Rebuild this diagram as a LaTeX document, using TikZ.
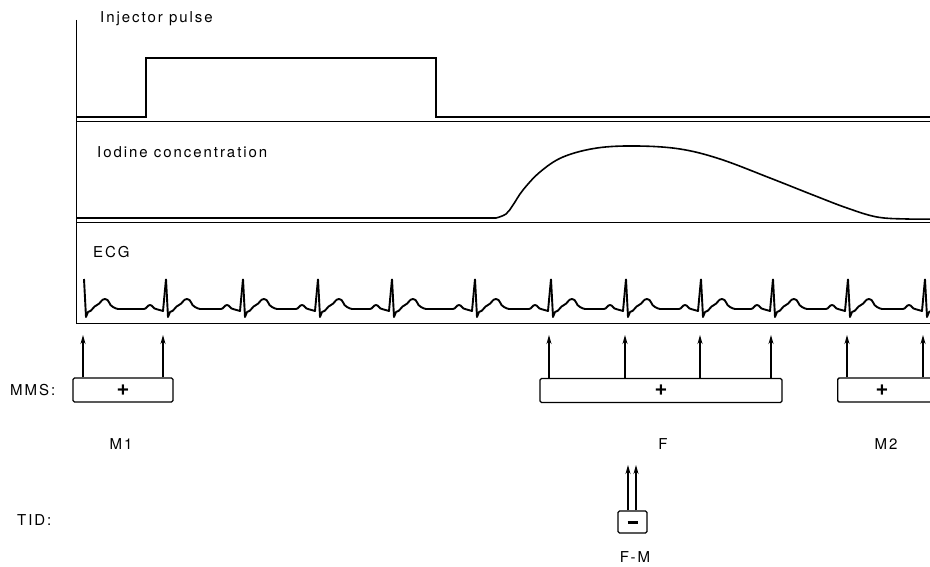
\documentclass[tikz,border=0pt]{standalone}
\usepackage{fontspec}
\setmainfont{TeX Gyre Heros}
\newfontfamily\lblfont{TeX Gyre Heros}[LetterSpace=13]
\usetikzlibrary{arrows.meta}

\begin{document}
\begin{tikzpicture}[
  x=1pt,y=-1pt,
  >={Stealth[length=9pt,width=5pt]},
  lab/.style={font=\lblfont\fontsize{15}{17}\selectfont,inner sep=0pt},
  sig/.style={line width=1.6pt},
  ecg/.style={line width=1.9pt,line join=round},
  rule/.style={line width=0.8pt},
  mms/.style={draw,line width=1.4pt,rounded corners=1.5pt,minimum height=24pt,
    inner sep=0pt,font=\bfseries\fontsize{22}{22}\selectfont},
  trig/.style={->,line width=1.3pt}]

  \useasboundingbox (0,0) rectangle (930,567);
  \clip (0,0) rectangle (930,567);

  % ---- axis and panel rules ----
  \draw[rule] (76,20) -- (76,323);
  \draw[rule] (76,121) -- (930,121);
  \draw[rule] (76,222) -- (930,222);
  \draw[rule] (76,323) -- (930,323);

  % ---- injector pulse ----
  \node[lab,anchor=base west] (inj) at (100,23) {Injector pulse};
  \draw[sig] (76,117) -- (146,117) -- (146,58) -- (436,58) -- (436,117) -- (930,117);

  % ---- iodine concentration ----
  \node[lab,anchor=base west] (iod) at (97,158) {Iodine concentration};
  \draw[sig] (76,218) -- (496,218)
    plot[smooth,tension=0.6] coordinates {(496,218) (506,214) (513,205) (523,190)
      (540,172) (563,157) (597,148) (637,146) (680,149) (720,159) (770,178)
      (813,195) (847,208) (877,217) (907,219) (935,219)};

  % ---- ECG ----
  \node[lab,anchor=base west] (ecg) at (93,258) {ECG};
  \foreach \a/\b in {84/166,166/243,243/318,318/392,392/475,475/551,
                     551/626,626/701,701/773,773/848,848/925,925/1000}
    \draw[ecg] (\a,279) -- (\a+2,317) -- (\a+4,312)
      to[out=10,in=200] (\a+13,305) to[out=20,in=180] (\a+21,299)
      to[out=0,in=160] (\a+29,307) to[out=-20,in=180] (\a+34,309)
      -- (\b-22,309) to[out=0,in=180] (\b-16,305) to[out=0,in=180] (\b-10,309)
      -- (\b-3,311) -- (\b,279);

  % ---- MMS ----
  \node[lab,anchor=base west] (mmslab) at (10,395) {MMS:};
  \node[mms,minimum width=100pt] (m1) at (123,390) {+};
  \node[mms,minimum width=242pt] (f) at (661,390.5) {+};
  \node[mms,minimum width=110pt,anchor=west] (m2) at (837,390) {};
  \node[font=\bfseries\fontsize{22}{22}\selectfont,inner sep=0pt] (m2sign) at (882,390) {+};

  \foreach \x in {83,163}{
    \coordinate (q) at (\x,335);
    \draw[trig] (m1.north -| q) -- (q);}
  \foreach \x in {549,625,700,771}{
    \coordinate (q) at (\x,335);
    \draw[trig] (f.north -| q) -- (q);}
  \foreach \x in {847,923}{
    \coordinate (q) at (\x,335);
    \draw[trig] (m2.north -| q) -- (q);}

  \node[lab,anchor=base] (m1lab) at (121,449) {M1};
  \node[lab,anchor=base] (flab) at (663,449) {F};
  \node[lab,anchor=base] (m2lab) at (886,449) {M2};

  % ---- TID ----
  \node[lab,anchor=base west] (tidlab) at (17,525) {TID:};
  \node[mms,minimum width=29pt,minimum height=22pt] (fm) at (632.5,522)
    {\rule[0pt]{10pt}{3pt}};
  \foreach \x in {628,636}{
    \coordinate (q) at (\x,465);
    \draw[trig] (fm.north -| q) -- (q);}
  \node[lab,anchor=base] (fmlab) at (635,562) {F-M};
\end{tikzpicture}
\end{document}
